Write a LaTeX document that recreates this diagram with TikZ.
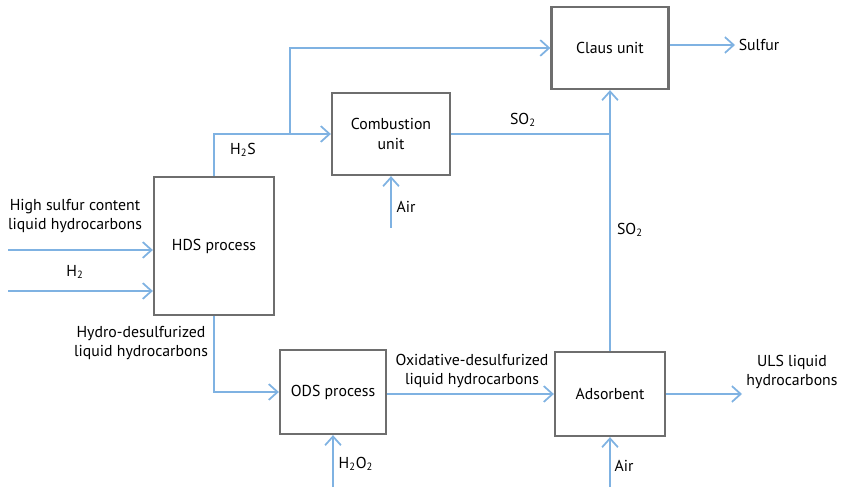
\documentclass[tikz,border=0pt]{standalone}
\usepackage{fontspec}
\setmainfont{PT Sans}
\usetikzlibrary{arrows.meta,positioning}
\definecolor{pipe}{HTML}{7FB2E2}
\definecolor{frame}{HTML}{6E6E6E}
\begin{document}
\begin{tikzpicture}[x=0.02cm, y=-0.02cm, line width=1pt,
        unit/.style={rectangle, draw=frame, line width=1.3pt, fill=white, align=center, inner sep=2pt, font=\fontsize{9}{11}\selectfont},
        flow/.style={draw=pipe, line width=1.1pt, -{Straight Barb[length=5pt, width=9pt, line width=1pt]}},
        pipe/.style={draw=pipe, line width=1.1pt},
        tag/.style={align=center, inner sep=1pt, font=\fontsize{9}{11}\selectfont}]
    \useasboundingbox (0,0) rectangle (841,489);
    % process units
    \node[unit, minimum width=2.4cm, minimum height=2.76cm] (hds) at (214,246) {HDS process};
    \node[unit, minimum width=2.36cm, minimum height=1.64cm] (comb) at (391,134) {Combustion\\unit};
    \node[unit, minimum width=2.34cm, minimum height=1.64cm] (claus) at (610,48) {Claus unit};
    \node[unit, minimum width=2.12cm, minimum height=1.68cm] (ods) at (333,392) {ODS process};
    \node[unit, minimum width=2.2cm, minimum height=1.68cm] (ads) at (610,394) {Adsorbent};
    % feeds and products
    \coordinate (feed) at (8,250);
    \coordinate (hyd) at (8,291);
    \coordinate (air1) at (391,228);
    \coordinate (peroxide) at (333,487);
    \coordinate (air2) at (610,487);
    \coordinate (sulfur) at (735,45);
    \coordinate (uls) at (742,394);
    \draw[flow] (feed) -- (feed -| hds.west);
    \draw[flow] (hyd) -- (hyd -| hds.west);
    \draw[flow] (air1) -- (comb.south);
    \draw[flow] (peroxide) -- (ods.south);
    \draw[flow] (air2) -- (ads.south);
    \draw[flow] (claus.east |- sulfur) -- (sulfur);
    \draw[flow] (ads.east) -- (uls);
    % H2S to combustion and Claus
    \draw[flow] (hds.north) |- (comb.west);
    \coordinate (split) at (290,134);
    \draw[flow] (split) |- (claus.west);
    % SO2 lines
    \draw[pipe] (comb.east) -- (comb.east -| claus.south);
    \draw[flow] (ads.north) -- (claus.south);
    % liquid streams
    \draw[flow] (hds.south) |- (ods.west);
    \draw[flow] (ads.west -| ods.east) -- (ads.west);
    % stream labels
    \node[tag] (lfeed) at (75,216) {High sulfur content\\liquid hydrocarbons};
    \node[tag] (lhyd) at (75,272) {H\textsubscript{2}};
    \node[tag] (lhs) at (243,150) {H\textsubscript{2}S};
    \node[tag] (lso1) at (523,120) {SO\textsubscript{2}};
    \node[tag] (lso2) at (630,230) {SO\textsubscript{2}};
    \node[tag] (lair1) at (406,207) {Air};
    \node[tag] (lsulfur) at (759,45) {Sulfur};
    \node[tag] (lhdl) at (141,343) {Hydro-desulfurized\\liquid hydrocarbons};
    \node[tag] (lodl) at (472,371) {Oxidative-desulfurized\\liquid hydrocarbons};
    \node[tag] (luls) at (792,372) {ULS liquid\\hydrocarbons};
    \node[tag] (lpero) at (356,464) {H\textsubscript{2}O\textsubscript{2}};
    \node[tag] (lair2) at (624,466) {Air};
\end{tikzpicture}
\end{document}
